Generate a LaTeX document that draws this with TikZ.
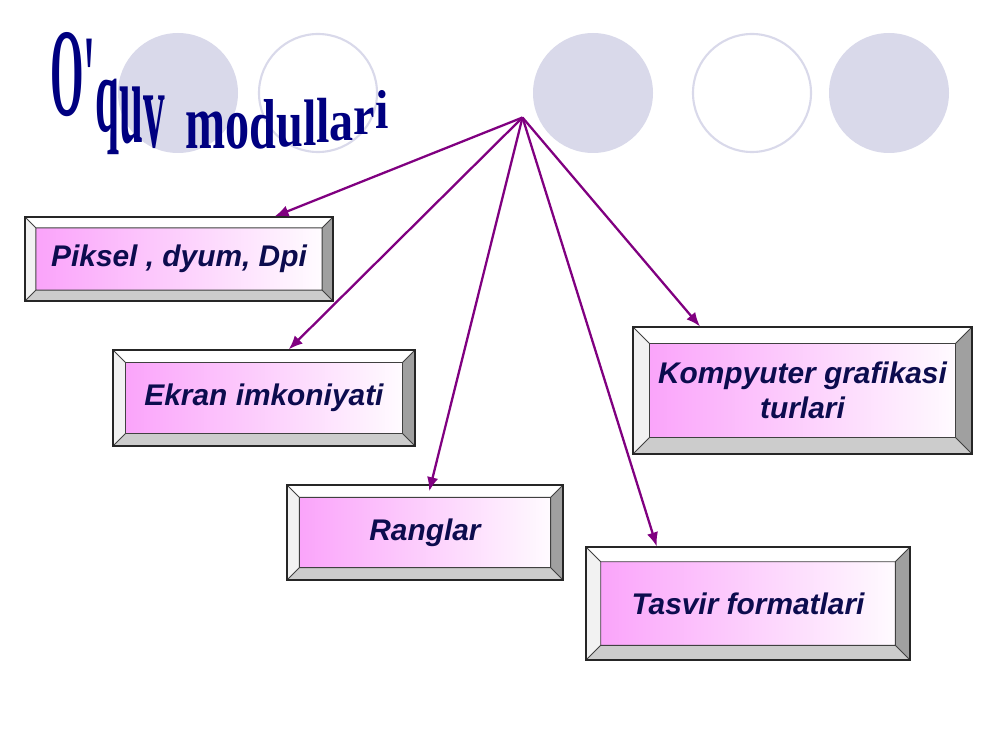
\documentclass[tikz,border=0pt]{standalone}
\usepackage{fontspec}
\setsansfont{Liberation Sans}
\newfontfamily\wafont{Liberation Serif}
\usepackage{graphicx}
\usetikzlibrary{calc, positioning, arrows.meta}

\definecolor{circfill}{RGB}{217,217,234}
\definecolor{facepink}{RGB}{250,160,250}
\definecolor{bevdark}{RGB}{160,160,160}
\definecolor{bevmid}{RGB}{204,204,204}
\definecolor{linkpurple}{RGB}{128,0,128}
\definecolor{boxtext}{RGB}{12,12,78}
\definecolor{titleblue}{RGB}{0,0,128}

% one stretched letter of the title: raise, x-scale, y-scale, letter
\newcommand{\wl}[4]{\raisebox{#1pt}{\scalebox{#2}[#3]{#4}}}

\begin{document}
\begin{tikzpicture}[
  dot/.style={circle, fill=circfill, minimum size=2.4cm, inner sep=0pt},
  ring/.style={circle, draw=circfill, line width=1.2pt, minimum size=2.36cm, inner sep=0pt},
  bevbox/.style={draw=black!85, line width=0.6pt, inner sep=0pt,
    left color=facepink, middle color=facepink!40!white, right color=white,
    font=\sffamily\bfseries\itshape\fontsize{17}{20}\selectfont, text=boxtext, align=center,
    path picture={
      \path let \p1=(path picture bounding box.north east),
                \p2=(path picture bounding box.south west),
                \n1={0.13*(\y1-\y2)} in
        coordinate (ne) at (\x1,\y1) coordinate (sw) at (\x2,\y2)
        coordinate (nw) at (\x2,\y1) coordinate (se) at (\x1,\y2)
        coordinate (ine) at (\x1-\n1,\y1-\n1) coordinate (isw) at (\x2+\n1,\y2+\n1)
        coordinate (inw) at (\x2+\n1,\y1-\n1) coordinate (ise) at (\x1-\n1,\y2+\n1);
      \fill[white] (nw) -- (ne) -- (ine) -- (inw) -- cycle;
      \fill[white!95!black] (nw) -- (inw) -- (isw) -- (sw) -- cycle;
      \fill[bevdark] (ne) -- (se) -- (ise) -- (ine) -- cycle;
      \fill[bevmid] (sw) -- (se) -- (ise) -- (isw) -- cycle;
      \draw[black!75, line width=0.5pt] (inw) rectangle (ise)
        (nw) -- (inw) (ne) -- (ine) (sw) -- (isw) (se) -- (ise);
    }},
  link/.style={draw=linkpurple, line width=1.3pt, -{Latex[length=8pt, width=6.5pt]}},
  titlelab/.style={font=\wafont\bfseries\fontsize{10}{12}\selectfont, text=titleblue, inner sep=0pt, anchor=base west}
]

\useasboundingbox (0,0) rectangle (20,15);

% circles along the top
\foreach \cx/\sty [count=\i] in {3.56/dot, 6.36/ring, 11.86/dot, 15.04/ring, 17.78/dot}
  \node[\sty] (c\i) at (\cx,13.14) {};

% title
\node[titlelab] (title) at (1.0,12.04) {%
  \wl{18.7}{2.45}{7.14}{O}\wl{17}{2.45}{6.9}{'}\wl{9.6}{2.45}{6.2}{q}%
  \wl{3.4}{2.45}{6.9}{u}\wl{0.5}{2.45}{6.4}{v} \hspace{9pt}%
  \wl{0}{2.74}{4.42}{m}\wl{0}{2.74}{4.25}{o}\wl{0}{2.74}{4.02}{d}%
  \wl{0.6}{2.74}{3.85}{u}\wl{1.7}{2.74}{3.74}{l}\wl{3.4}{2.74}{3.63}{l}%
  \wl{4.5}{2.74}{3.29}{a}\wl{7.4}{2.74}{3.17}{r}\wl{11.3}{2.74}{3.12}{i}};

% module boxes
\node[bevbox, minimum width=6.16cm, minimum height=1.68cm] (pik) at (3.58,9.82) {Piksel , dyum, Dpi};
\node[bevbox, minimum width=6.04cm, minimum height=1.92cm] (ekr) at (5.28,7.04) {Ekran imkoniyati};
\node[bevbox, minimum width=6.78cm, minimum height=2.54cm] (kom) at (16.05,7.19) {Kompyuter grafikasi\\turlari};
\node[bevbox, minimum width=5.52cm, minimum height=1.90cm] (ran) at (8.50,4.35) {Ranglar};
\node[bevbox, minimum width=6.48cm, minimum height=2.26cm] (tas) at (14.96,2.93) {Tasvir formatlari};

% arrows from one point
\coordinate (hub) at (10.45,12.65);
\draw[link] (hub) -- (pik.24);
\draw[link] (hub) -- (ekr.63);
\draw[link, shorten >=-0.14cm] (hub) -- (ran.83);
\draw[link] (hub) -- (tas.148);
\draw[link] (hub) -- (kom.148);

\end{tikzpicture}
\end{document}
